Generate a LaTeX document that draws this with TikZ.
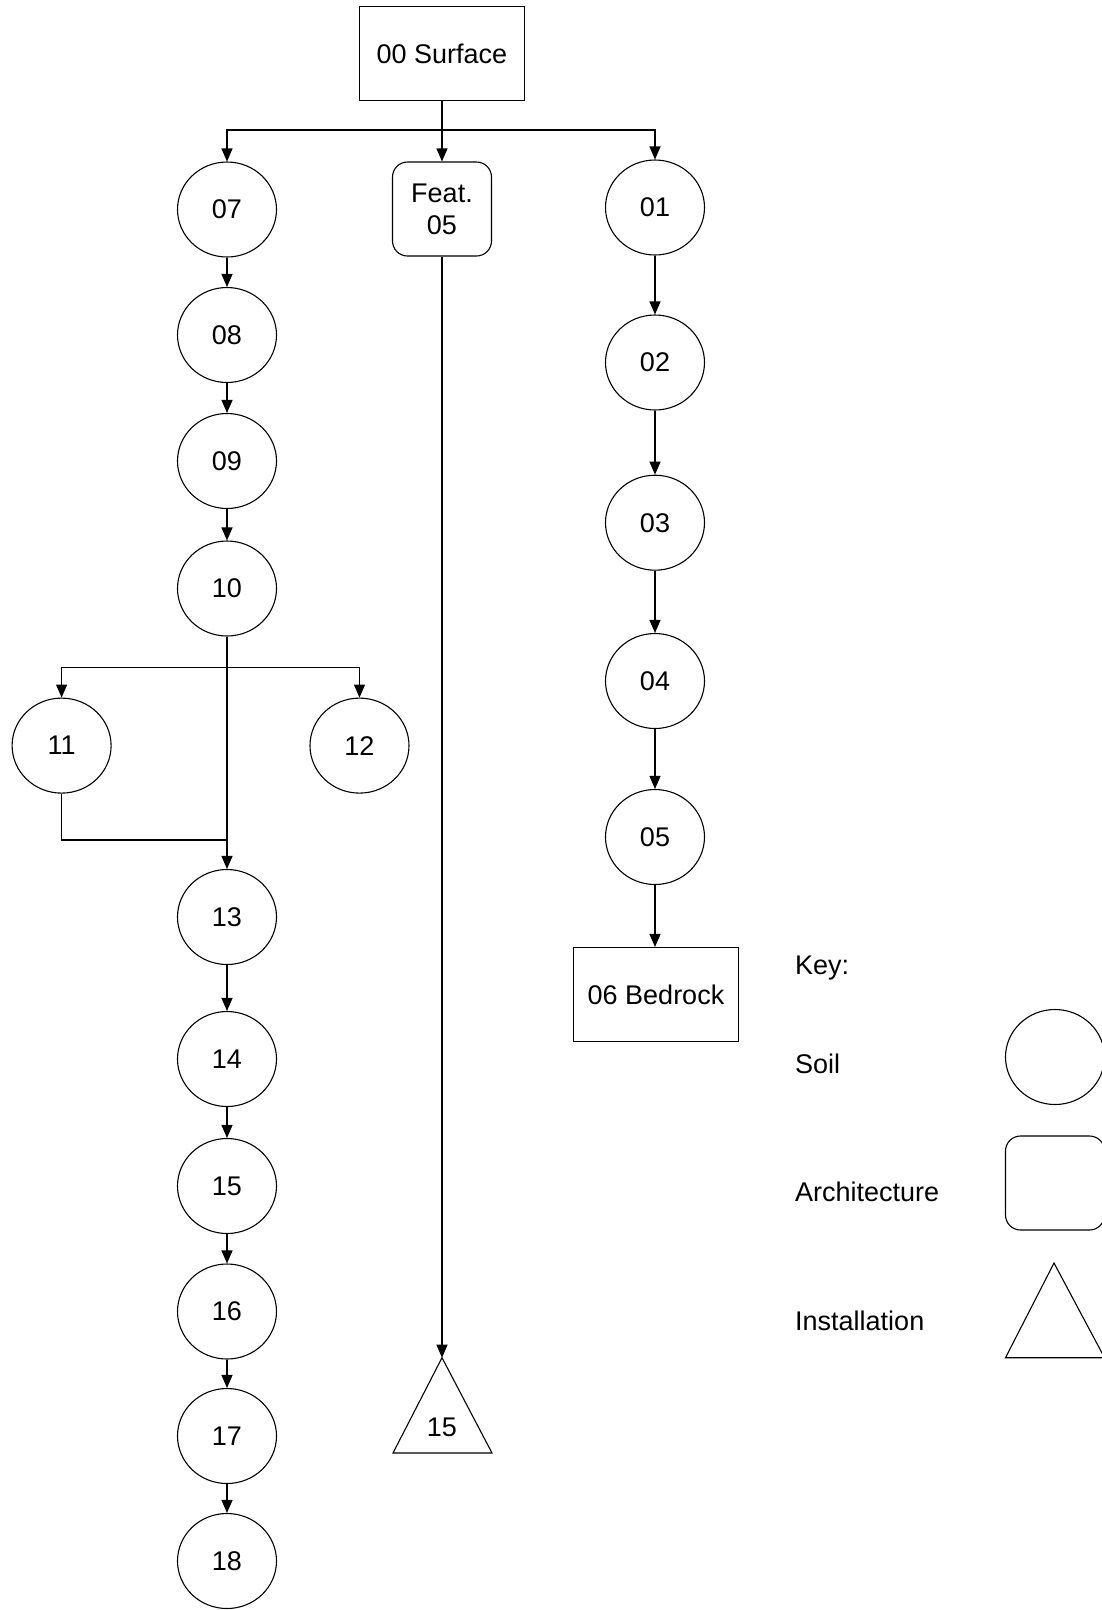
\documentclass[tikz,border=0pt]{standalone}
\usepackage{fontspec}
\setmainfont{Liberation Sans}
\usetikzlibrary{shapes.geometric,arrows.meta}
\begin{document}
\begin{tikzpicture}[x=1pt,y=-1pt,
  every node/.style={font=\fontsize{27}{31}\selectfont},
  soil/.style={draw,ellipse,line width=1.1pt,minimum width=99pt,minimum height=95pt,inner sep=0pt},
  arch/.style={draw,rectangle,rounded corners=15pt,line width=1.1pt,minimum width=99pt,minimum height=94pt,inner sep=0pt,align=center},
  sqbox/.style={draw,rectangle,line width=1.1pt,minimum width=165pt,minimum height=94pt,inner sep=0pt},
  arr/.style={line width=1.1pt,-{Triangle[length=13pt,width=11pt]}},
  ln/.style={line width=1.1pt},
  lbl/.style={anchor=west,inner sep=0pt}]
\useasboundingbox (0,0) rectangle (1102,1610);
% top
\node[sqbox] (surf) at (442,53.5) {00 Surface};
\coordinate (j0) at (442,130);
% left column
\node[soil] (n07) at (227,209.5) {07};
\node[soil] (n08) at (227,335) {08};
\node[soil] (n09) at (227,461) {09};
\node[soil] (n10) at (227,588.5) {10};
\node[soil] (n11) at (61.6,745.6) {11};
\node[soil] (n12) at (359.5,745.6) {12};
\node[soil] (n13) at (227,917) {13};
\node[soil] (n14) at (227,1059) {14};
\node[soil] (n15) at (227,1186) {15};
\node[soil] (n16) at (227,1311.5) {16};
\node[soil] (n17) at (227,1436) {17};
\node[soil] (n18) at (227,1561) {18};
\coordinate (j1) at (227,667.5);
\coordinate (j2) at (227,840);
% middle
\node[arch] (feat) at (442,209) {Feat.\\[1pt]05};
\coordinate (tapex) at (442,1357.7);
\draw[ln] (tapex) -- (393,1453) -- (492,1453) -- cycle;
\node (t15) at (442,1427) {15};
% right column
\node[soil] (n01) at (655,207.5) {01};
\node[soil] (n02) at (655,362.5) {02};
\node[soil] (n03) at (655,522.7) {03};
\node[soil] (n04) at (655,681) {04};
\node[soil] (n05) at (655,837) {05};
\node[sqbox] (n06) at (656,994.5) {06 Bedrock};
% connectors
\draw[ln] (surf.south) -- (j0);
\draw[arr] (j0) -| (n07.north);
\draw[arr] (j0) -| (n01.north);
\draw[arr] (j0) -- (feat.north);
\draw[arr] (n07) -- (n08);
\draw[arr] (n08) -- (n09);
\draw[arr] (n09) -- (n10);
\draw[arr] (n10.south) -- (n13.north);
\draw[arr] (j1) -| (n11.north);
\draw[arr] (j1) -| (n12.north);
\draw[ln] (n11.south) |- (j2);
\draw[arr] (n13) -- (n14);
\draw[arr] (n14) -- (n15);
\draw[arr] (n15) -- (n16);
\draw[arr] (n16) -- (n17);
\draw[arr] (n17) -- (n18);
\draw[arr] (feat.south) -- (tapex);
\draw[arr] (n01) -- (n02);
\draw[arr] (n02) -- (n03);
\draw[arr] (n03) -- (n04);
\draw[arr] (n04) -- (n05);
\draw[arr] (n05.south) -- (n05.south |- n06.north);
% key
\node[lbl] (key) at (795,967.5) {Key:};
\node[lbl] (ksoil) at (795,1064) {Soil};
\node[lbl] (karch) at (795,1192) {Architecture};
\node[lbl] (kinst) at (795,1320.7) {Installation};
\node[soil] (kcirc) at (1055,1057) {};
\node[arch] (kbox) at (1055,1183) {};
\draw[ln] (1054,1263) -- (1005.5,1357.7) -- (1104.5,1357.7) -- cycle;
\end{tikzpicture}
\end{document}
